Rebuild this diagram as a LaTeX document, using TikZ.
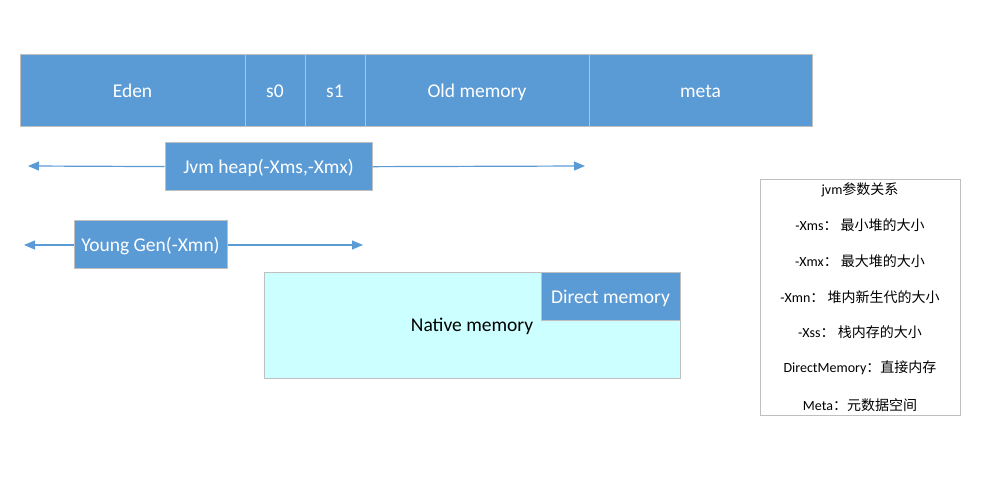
\documentclass[tikz,border=0pt]{standalone}
\usepackage{fontspec}
\setmainfont{Carlito}
\newfontfamily\cjk{Noto Sans CJK SC}
\usetikzlibrary{arrows.meta}
\definecolor{blk}{HTML}{5B9BD5}
\definecolor{edge}{HTML}{BFBFBF}
\definecolor{native}{HTML}{CCFFFF}
\tikzset{
  seg/.style={draw=edge,fill=blk,text=white,line width=1pt,inner sep=0pt,minimum height=72pt,text height=12.5pt,text depth=0pt,font=\fontsize{19.5}{22}\selectfont},
  tag/.style={draw=edge,fill=blk,text=white,line width=1pt,inner sep=0pt,minimum height=48pt,text height=12.5pt,text depth=0pt,font=\fontsize{19.5}{22}\selectfont},
  span/.style={draw=blk,line width=1.2pt,-{Triangle[length=11pt,width=9pt]}},
  legend/.style={font=\fontsize{14}{16}\selectfont}
}
\begin{document}
\begin{tikzpicture}[x=1pt,y=-1pt]
    \useasboundingbox (0,0) rectangle (994,481);
    \node[seg,minimum width=225pt] (eden) at (132.5,91) {Eden};
    \node[seg,minimum width=60pt] (s0) at (275,91) {s0};
    \node[seg,minimum width=60pt] (s1) at (335,91) {s1};
    \node[seg,minimum width=224pt] (old) at (477,91) {Old memory};
    \node[seg,minimum width=223pt] (meta) at (700.5,91) {meta};
    \node[tag,minimum width=207pt] (heap) at (268.5,167) {Jvm heap(-Xms,-Xmx)};
    \node[tag,minimum width=153pt] (young) at (150.5,245) {Young Gen(-Xmn)};
    \coordinate (heapL) at (28,166);
    \coordinate (heapR) at (585,166);
    \coordinate (youngL) at (24,245);
    \coordinate (youngR) at (363,245);
    \draw[span] (heap) -- (heapL);
    \draw[span] (heap) -- (heapR);
    \draw[span] (young) -- (youngL);
    \draw[span] (young) -- (youngR);
    \node[draw=edge,fill=native,line width=1pt,minimum width=416pt,minimum height=105pt,inner sep=0pt] (nat) at (472,325.5) {};
    \node[font=\fontsize{19.5}{22}\selectfont,text height=12.5pt,text depth=0pt,inner sep=0pt] (natlabel) at (472,325) {Native memory};
    \node[tag,minimum width=139pt,anchor=north east] (direct) at (nat.north east) {Direct memory};
    \node[draw=edge,line width=0.8pt,minimum width=200pt,minimum height=236pt,inner sep=0pt] (params) at (860,297) {};
    \node[legend] at (860,190) {jvm{\cjk 参数关系}};
    \node[legend] at (860,225) {-Xms{\cjk：~最小堆的大小}};
    \node[legend] at (860,261) {-Xmx{\cjk：~最大堆的大小}};
    \node[legend] at (860,297) {-Xmn{\cjk：~堆内新生代的大小}};
    \node[legend] at (860,332) {-Xss{\cjk：~栈内存的大小}};
    \node[legend] at (860,368) {DirectMemory{\cjk：直接内存}};
    \node[legend] at (860,405) {Meta{\cjk：元数据空间}};
\end{tikzpicture}
\end{document}
